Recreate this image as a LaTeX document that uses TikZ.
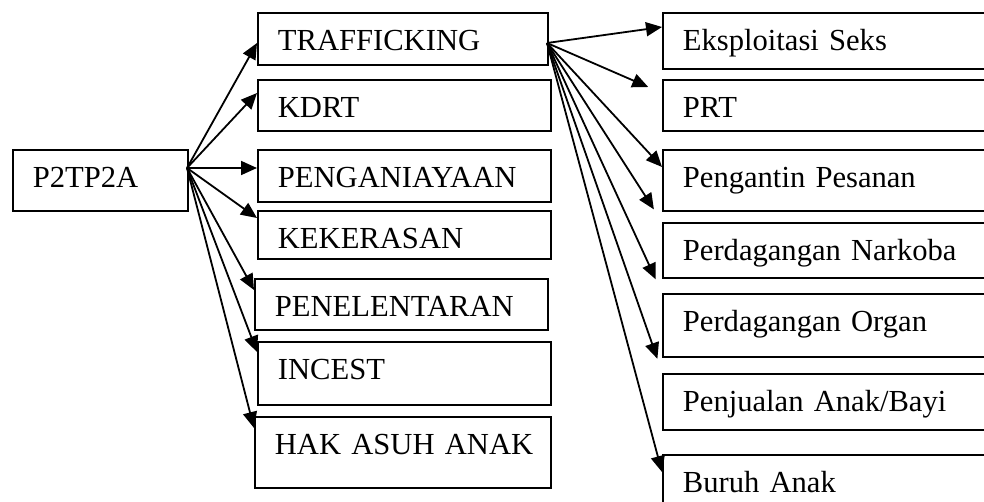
\documentclass[tikz,border=0pt]{standalone}
\usepackage{fontspec}
\setmainfont{Liberation Serif}
\usetikzlibrary{arrows.meta}

\begin{document}
\begin{tikzpicture}[x=0.5pt, y=-0.5pt, line width=0.9pt,
    >={Triangle[length=8pt, width=7pt]},
    every node/.style={font=\fontsize{15.3}{18}\selectfont},
    box/.style={draw, anchor=north west, align=left, inner xsep=10pt, inner ysep=0pt, text height=19pt}]
    \useasboundingbox (0,0) rectangle (984,502);
    % source
    \node [box, text width=67.5pt, text depth=11.5pt] (p2tp2a) at (12,149) {P2TP2A};
    % kasus
    \node [box, text width=125pt, text depth=7pt] (traf) at (257,12) {TRAFFICKING};
    \node [box, text width=126.5pt, text depth=6.5pt] (kdrt) at (257,79) {KDRT};
    \node [box, text width=126.5pt, text depth=7pt] (aniaya) at (257,149) {PENGANIAYAAN};
    \node [box, text width=126.5pt, text depth=5pt] (keras) at (257,210) {KEKERASAN};
    \node [box, text width=126.5pt, text depth=6.5pt] (lantar) at (254,278) {PENELENTARAN};
    \node [box, text width=126.5pt, text depth=12.5pt] (incest) at (257,341) {INCEST};
    \node [box, text width=128pt, text depth=16.5pt] (hak) at (254,416) {HAK~ASUH~ANAK};
    % jenis trafficking
    \node [box, text width=180pt, text depth=9pt] (seks) at (662,12) {Eksploitasi Seks};
    \node [box, text width=180pt, text depth=6.5pt] (prt) at (662,79) {PRT};
    \node [box, text width=180pt, text depth=11.5pt] (pesanan) at (662,149) {Pengantin Pesanan};
    \node [box, text width=180pt, text depth=8.5pt] (narkoba) at (662,222) {Perdagangan Narkoba};
    \node [box, text width=180pt, text depth=12.5pt] (organ) at (662,293) {Perdagangan Organ};
    \node [box, text width=180pt, text depth=9pt] (bayi) at (662,373) {Penjualan Anak/Bayi};
    \node [box, text width=180pt, text depth=21pt] (buruh) at (662,454) {Buruh Anak};
    \coordinate (p2out) at (187,168);
    \coordinate (trafout) at (547,43);
    \draw [->] (p2out) to (traf.west |- 0,43);
    \draw [->] (p2out) to (kdrt.west |- 0,93);
    \draw [->] (p2out) to (aniaya.west |- 0,168);
    \draw [->] (p2out) to (keras.west |- 0,218);
    \draw [->] (p2out) to (lantar.west |- 0,290);
    \draw [->] (p2out) to (incest.west |- 0,352);
    \draw [->] (p2out) to (hak.west |- 0,428);
    \draw [->] (trafout) to (seks.west |- 0,27);
    \draw [->, shorten >=7.5pt] (trafout) to (prt.west |- 0,93);
    \draw [->] (trafout) to (pesanan.west |- 0,167);
    \draw [->, shorten >=7.5pt] (trafout) to (narkoba.west |- 0,222);
    \draw [->, shorten >=7.5pt] (trafout) to (organ.west |- 0,293);
    \draw [->, shorten >=7pt] (trafout) to (bayi.west |- 0,372);
    \draw [->] (trafout) to (buruh.west |- 0,472);
  \end{tikzpicture}
\end{document}
